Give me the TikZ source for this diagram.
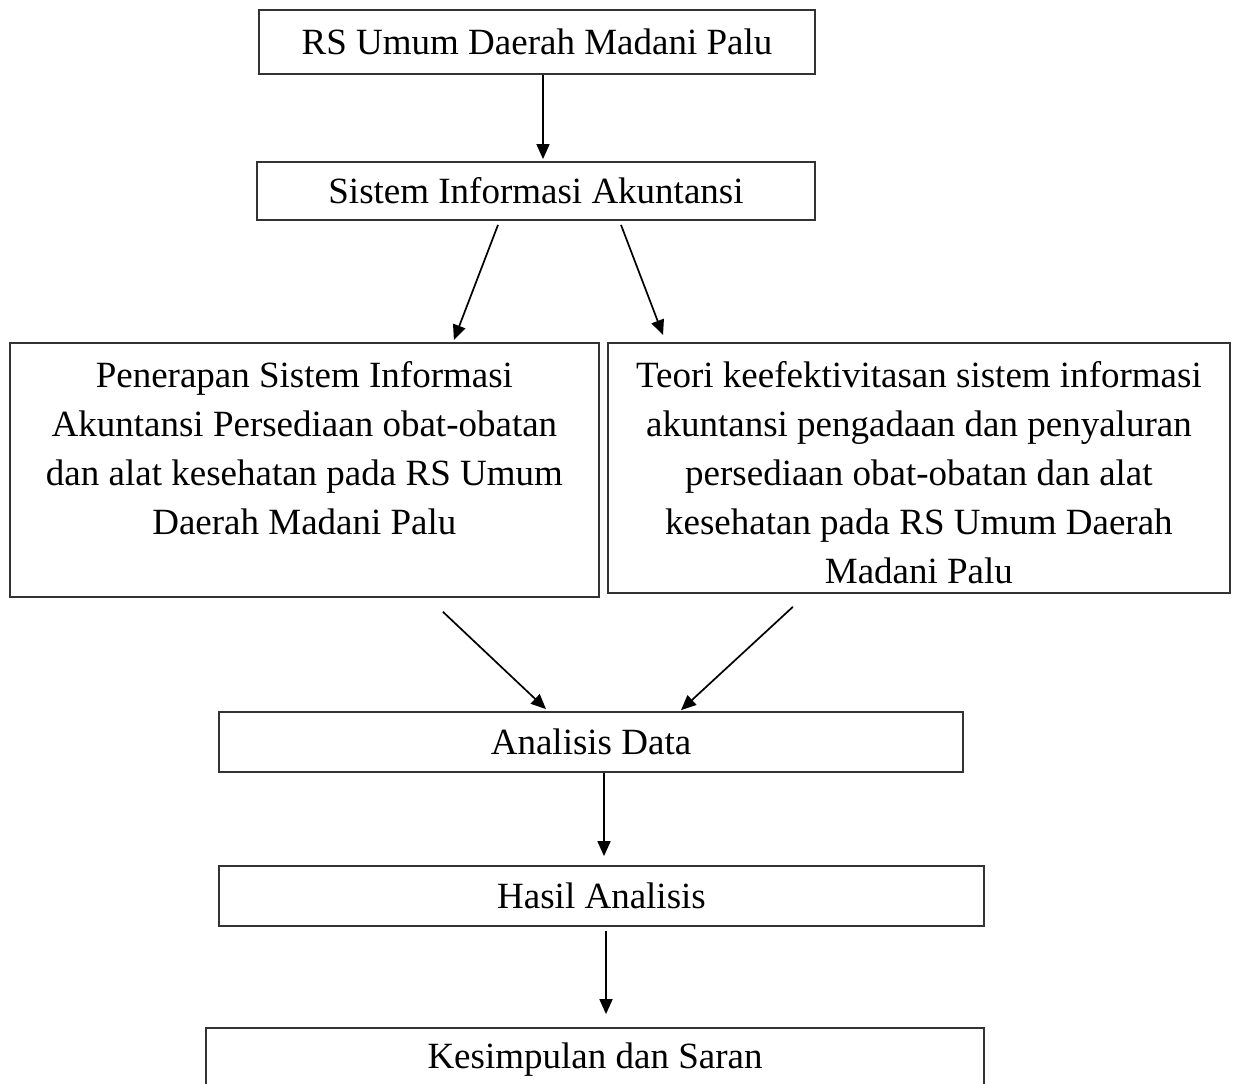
\documentclass[tikz,border=0pt]{standalone}
\usepackage{fontspec}
\setmainfont{Liberation Serif}
\usetikzlibrary{arrows.meta}

\begin{document}
\begin{tikzpicture}[x=0.5pt, y=-0.5pt,
	kotak/.style={draw=black!80, line width=0.9pt, inner sep=0pt, font=\fontsize{18.5}{24.5}\selectfont},
	panah/.style={-{Triangle[length=7.5pt, width=6.5pt]}, line width=0.85pt}]
	\useasboundingbox (0, 0) rectangle (1234, 1083);
	\clip (0, 0) rectangle (1234, 1083);

	% RS, SIA
	\node[kotak, minimum width=278pt, minimum height=32pt] (rs) at (537, 42) {RS Umum Daerah Madani Palu};
	\node[kotak, minimum width=279pt, minimum height=29pt] (sia) at (536, 191) {Sistem Informasi Akuntansi};

	% penerapan, teori (text from the top)
	\node[kotak, anchor=north west] (penerapan) at (9, 342) {\parbox[c][127pt][t]{294.5pt}{\centering\rule{0pt}{22.5pt}Penerapan Sistem Informasi\\ Akuntansi Persediaan obat-obatan\\ dan alat kesehatan pada RS Umum\\ Daerah Madani Palu}};
	\node[kotak, anchor=north west] (teori) at (607, 342) {\parbox[c][125pt][t]{311pt}{\centering\rule{0pt}{22.5pt}Teori keefektivitasan sistem informasi\\ akuntansi pengadaan dan penyaluran\\ persediaan obat-obatan dan alat\\ kesehatan pada RS Umum Daerah\\ Madani Palu}};

	% analisis, hasil, kesimpulan
	\node[kotak, minimum width=372pt, minimum height=30pt] (analisis) at (591, 742) {Analisis Data};
	\node[kotak, minimum width=382.5pt, minimum height=30pt] (hasil) at (601.5, 896) {Hasil Analisis};
	% bottom edge runs off the page
	\node[kotak, minimum width=389pt, minimum height=32pt] (kesimpulan) at (595, 1060) {Kesimpulan dan Saran};

	% arrows
	\draw[panah] ([xshift=3pt]rs.south) -- ([xshift=3.5pt, yshift=1pt]sia.north);
	\draw[panah] ([xshift=-19pt, yshift=-2pt]sia.south) -- ([xshift=74.75pt, yshift=1pt]penerapan.north);
	\draw[panah] ([xshift=42.5pt, yshift=-2pt]sia.south) -- ([xshift=28pt, yshift=3.5pt]teori.north west);
	\draw[panah] ([xshift=69.25pt, yshift=-7pt]penerapan.south) -- ([xshift=-22.5pt, yshift=1pt]analisis.north);
	\draw[panah] ([xshift=-63pt, yshift=-6.5pt]teori.south) -- ([xshift=45pt, yshift=0.5pt]analisis.north);
	\draw[panah] ([xshift=6.5pt]analisis.south) -- ([xshift=1.25pt, yshift=4.5pt]hasil.north);
	\draw[panah] ([xshift=2.25pt, yshift=-2pt]hasil.south) -- ([xshift=5.5pt, yshift=6.5pt]kesimpulan.north);
\end{tikzpicture}
\end{document}
